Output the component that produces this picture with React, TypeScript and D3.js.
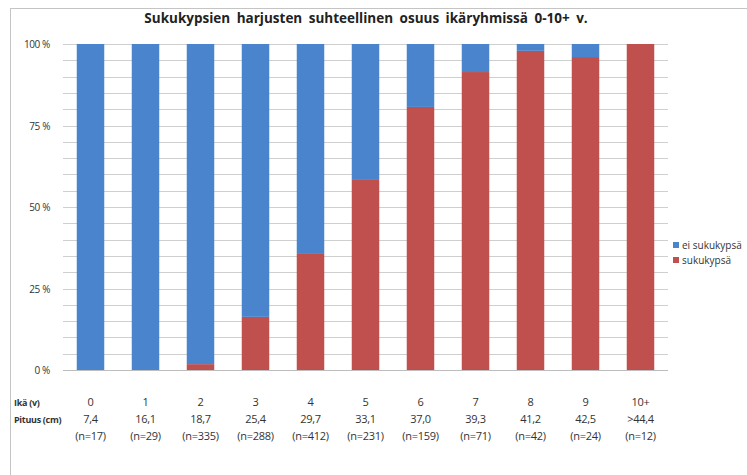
import * as d3 from 'd3';
import { useEffect, useRef } from 'react';

const ages = ['0', '1', '2', '3', '4', '5', '6', '7', '8', '9', '10+'];
const lengths = ['7,4', '16,1', '18,7', '25,4', '29,7', '33,1', '37,0', '39,3', '41,2', '42,5', '>44,4'];
const counts = [17, 29, 335, 288, 412, 231, 159, 71, 42, 24, 12];
// share of mature fish (sukukypsä), percent
const mature = [0, 0, 1.8, 16.3, 35.6, 58.3, 80.7, 91.4, 97.9, 96, 100];
const yTicks = [0, 25, 50, 75, 100];
const seriesNames = ['ei sukukypsä', 'sukukypsä'];
const seriesColors = ['#4a84cc', '#c0504d'];

const App = () => {
  const ref = useRef<SVGSVGElement>(null);

  useEffect(() => {
    const svg = d3.select(ref.current);
    svg.selectAll('*').remove();

    var margin = { left: 63, right: 79, top: 44, bottom: 105 },
      W = 747,
      H = 475,
      w = W - margin.left - margin.right,
      h = H - margin.top - margin.bottom;

    const font = "'Open Sans', 'Liberation Sans', sans-serif";

    // chart frame
    svg
      .append('rect')
      .attr('x', 10.5)
      .attr('y', 8.5)
      .attr('width', 760)
      .attr('height', 500)
      .attr('fill', 'white')
      .attr('stroke', '#c4c4c4');

    svg
      .append('text')
      .attr('x', 366)
      .attr('y', 23)
      .attr('text-anchor', 'middle')
      .attr('font-family', font)
      .attr('font-weight', 'bold')
      .attr('font-size', 13.5)
      .attr('fill', '#222')
      .attr('word-spacing', 3)
      .text('Sukukypsien harjusten suhteellinen osuus ikäryhmissä 0-10+ v.');

    const g = svg.append('g').attr('transform', `translate(${margin.left},${margin.top})`);

    const x = d3.scaleBand().domain(ages).range([0, w]).paddingInner(0.5).paddingOuter(0.25);
    const y = d3.scaleLinear().domain([0, 100]).range([h, 0]);

    // gridlines every 5 %
    g.selectAll('line.grid')
      .data(d3.range(0, 101, 5))
      .join('line')
      .attr('class', 'grid')
      .attr('x1', 0)
      .attr('x2', w)
      .attr('y1', (d) => Math.round(y(d)) + 0.5)
      .attr('y2', (d) => Math.round(y(d)) + 0.5)
      .attr('stroke', (d) => (d === 0 ? '#bdbdbd' : '#cfcfcf'))
      .attr('stroke-width', 1);

    g.selectAll('text.ytick')
      .data(yTicks)
      .join('text')
      .attr('class', 'ytick')
      .attr('x', -13)
      .attr('y', (d) => y(d) + 4)
      .attr('text-anchor', 'end')
      .attr('font-family', font)
      .attr('font-size', 10)
      .attr('letter-spacing', -0.4)
      .attr('fill', '#333')
      .text((d) => d + ' %');

    const rows = ages.map((a, i) => ({ age: a, mature: mature[i], immature: 100 - mature[i] }));
    const stack = d3.stack<any>().keys(['mature', 'immature'])(rows);
    const colorOf: Record<string, string> = { mature: seriesColors[1], immature: seriesColors[0] };

    g.selectAll('g.series')
      .data(stack)
      .join('g')
      .attr('class', 'series')
      .attr('fill', (s) => colorOf[s.key])
      .selectAll('rect')
      .data((s) => s)
      .join('rect')
      .attr('x', (d) => x(d.data.age)!)
      .attr('width', x.bandwidth())
      .attr('y', (d) => y(d[1]))
      .attr('height', (d) => y(d[0]) - y(d[1]));

    // category labels below the axis
    const labelRows = [
      { name: 'Ikä (v)', vals: ages, dy: 36 },
      { name: 'Pituus (cm)', vals: lengths, dy: 53 },
      { name: '', vals: counts.map((n) => `(n=${n})`), dy: 70 },
    ];
    labelRows.forEach((r) => {
      if (r.name)
        svg
          .append('text')
          .attr('x', 14)
          .attr('y', margin.top + h + r.dy)
          .attr('font-family', font)
          .attr('font-weight', 'bold')
          .attr('font-size', 9)
          .attr('letter-spacing', -0.3)
          .attr('fill', '#333')
          .text(r.name);
      g.selectAll(null)
        .data(r.vals)
        .join('text')
        .attr('x', (_d, i) => x(ages[i])! + x.bandwidth() / 2)
        .attr('y', h + r.dy)
        .attr('text-anchor', 'middle')
        .attr('font-family', font)
        .attr('font-size', 11)
        .attr('letter-spacing', -0.3)
        .attr('fill', '#333')
        .text((d) => d);
    });

    // legend
    const leg = svg.append('g').attr('transform', 'translate(673,242)');
    seriesNames.forEach((n, i) => {
      leg
        .append('rect')
        .attr('x', 0)
        .attr('y', i * 15)
        .attr('width', 6)
        .attr('height', 6)
        .attr('fill', seriesColors[i]);
      leg
        .append('text')
        .attr('x', 9)
        .attr('y', i * 15 + 7)
        .attr('font-family', font)
        .attr('font-size', 10)
        .attr('fill', '#333')
        .text(n);
    });
  }, []);

  return (
    <svg
      ref={ref}
      width={747}
      height={475}
      style={{ position: 'absolute', left: 0, top: 0, background: 'white' }}
    ></svg>
  );
};

export default App;
